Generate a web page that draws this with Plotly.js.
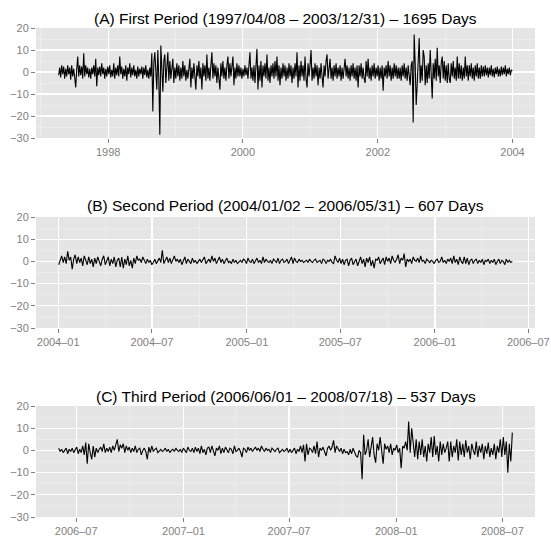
<!DOCTYPE html>
<html>
<head>
<meta charset="utf-8">
<script src="https://cdn.plot.ly/plotly-3.0.1.min.js"></script>
<style>html,body{margin:0;padding:0;background:#fff;}#chart{width:551px;height:536px;}</style>
</head>
<body>
<div id="chart"></div>
<script>
const titleA = "(A) First Period (1997/04/08 – 2003/12/31) – 1695 Days";
const titleB = "(B) Second Period (2004/01/02 – 2006/05/31) – 607 Days";
const titleC = "(C) Third Period (2006/06/01 – 2008/07/18) – 537 Days";

const periodA = ["1997-04-08", "2003-12-31"];
const periodB = ["2004-01-02", "2006-05-31"];
const periodC = ["2006-06-01", "2008-07-18"];

const valuesA = [
-1.5,2,-2.5,3,-1,2.5,-3,1.5,-2,3,
-1,2,-3.5,3,-2,1.5,-2.5,-7,1,7,
-2,3,-1.5,2.5,-3,8.5,-2,3,-1,2,
-2.5,1.5,-3,2,-1,3,-2,6,-6.5,2,
-1.5,2.5,-2,4,-1,2,-3,1.5,-2,2.5,
-1,3,-2.5,1,-2,4,-3,2,-1.5,3,
-2,7,-1,2.5,-3,1.5,-2,3,-4,2,
-1,4,-2.5,2,-1.5,3,-2,1,-3,2.5,
-2,1.5,-1,2.5,-3,2,-1.5,3,-2.5,1,
-3,2,-2,8.5,-18,4,9,-4,-8,10,
-3,-28.5,12,2,-9,5,8,-5,3,9,
-4,5,-3,4,6,-5,2,-3,4,-2,
3,-4,2,-3,5,-2,3,-4,1,-3,
4,6,-7,2,-3,4,-2,-8,3,-2,
5,-3,2,-8,4,-2,3,-4,8,-3,
2,-4,3,9,-3,4,-2,3,-5,2,
-3,-8,4,-2,5,-3,2,-4,3,7,
-3,4,-2,3,7,-6,2,-3,4,-2,
3,-2,2,-3,1.5,-2,3,-1.5,2,-3,
4,9,-3,2,-4,3,-5,2,10.5,-8,
3,-4,5,-7,3,-2,4,-3,8,-4,
2,-5,3,-2,4,-3,5,-2,7,-4,
3,-6,2,-3,4,-2,3,-4,2,-3,
4,-2,3,-5,2,-3,4,-2,9,-7,
3,-4,5,-2,3,-4,7,-3,-7,4,
-2,3,10,-4,2,-3,4,-2,3,-6,
2,-3,4,-2,-7,3,-2,5,8,-3,
2,6,-3,2,-4,3,-2,4,-3,2,
-2,3,-4,2,-3,4,6,-2,3,-3,
2,-4,3,-2,4,-3,2,-4,3,-7,
3,-2,4,-3,2,-3,-5,5,-2,6,
-3,2,-4,3,-2,4,-3,2,-2,3,
-4,2,-3,3,-8.5,2,-2,3,-3,5,
-2,3,-4,2,-3,4,-2,3,-3,2,
-3,2,-4,3,-2,4,-3,2,-4,3,
-2,-6,3,5,-23,17,4,-15,-6,8,
15.5,-5,3,-4,10,7,-6,3,-5,4,
-3,10,-5,-12,4,-3,6,-4,11,-2,
3,-5,4,7,-3,5,-4,3,-5,4,
-3,-5,4,-2,5,-3,2,-4,7,-3,
4,-3,3,-4,2,-3,7,-2,3,-4,
3,-2,4,-3,2,-4,3,-2,4,-3,
2,-3,3,-2,2.5,-2,3,-1.5,2,-2.5,
2,-1.5,3,-2,1.5,-2.5,2,-1,2.5,-2,
1.5,-2,2.5,-1.5,2,-1,3,-2,1.5,-1,
2,-1.5,1,0.5
];

const valuesB = [
-1.5,1,2.5,-0.5,2,-1,4.5,0.5,2,-3.5,
1,3,-1,2,-0.5,1.5,-2,2.5,0,-1.5,
2,-1,1,-2.5,1.5,-1,2,-0.5,-2,1,
2.5,-1.5,0.5,2,-2,1,-1,2,-2.5,0.5,
1.5,-2.5,2,-3,1,-1.5,2.5,-2,0.5,-3,
1.5,-1,2.5,0.5,1,-0.5,2,0,-1,1,
-0.5,0.5,-1.5,-0.5,1,-1,0.5,1.5,-0.5,5,
-1,0.5,2,-0.5,1.5,-1,0.5,2.5,0,1,
-0.5,1,-1.5,0.5,2,-1,1,0,-1,1.5,
-0.5,0.5,-1,0,1,-0.5,0.5,2,-1,0,
1,-0.5,2.5,0,1.5,-1,0.5,2,-0.5,1,
-1,0.5,1.5,-0.5,0,-1,1,-0.5,0.5,-1,
0,0.5,-0.5,1,0.5,-1,1.5,0,-0.5,1,
-1,0,1.5,-0.5,0.5,-1,2,-0.5,1,0,
-0.5,0.5,-1,1,0,-0.5,1.5,-1,0.5,1,
-0.5,0,1,-1,0.5,2,-1,1.5,0,-0.5,
1,0,0.5,-0.5,0,0.5,-0.5,1,0,-0.5,
0.5,1,-0.5,0,0.5,-1,1,0.5,-1,0.5,
0,1,-0.5,-1,2.5,0.5,-0.5,1.5,-1,1,
-1.5,0.5,1,-2,0.5,1.5,-1.5,0,1,-2,
0.5,2,-1,1,-2.5,1.5,-0.5,2,-2,0.5,
-3,1,0.5,2,-1,0,1.5,-1.5,2,0,
1.5,-1,2.5,0.5,-0.5,1,3,-1,1.5,0.5,
3.5,-2.5,1,0,1,-1,2,0.5,0,1.5,
-0.5,2.5,0,0.5,-1,1,0,-0.5,0.5,0,
-1,0.5,1,-0.5,0,2,-0.5,0.5,-1,1,
0,1.5,-1,2.5,-0.5,1,-1.5,2,0,-1,
2,-1,1.5,-1.5,0.5,1,-1,0.5,1,-1,
0.5,-0.5,1,-1.5,0.5,0,1,-1,0.5,-0.5,
1,-1.5,0,1,-1,0.5,0,-1.5,1,-0.5,
0.5,-0.5,0
];

const valuesC = [
1,-0.5,0.5,-1,0,1,-1.5,0.5,-0.5,1,
-1,0,1.5,-1.5,0.5,-1,2,-2,3.5,-6,
3,-1,-4,2,-3,1,-1,0.5,1.5,-0.5,
3,-1,1,-0.5,1.5,-1,2,0,3,5,
-0.5,2.5,1,3,-1,2,0,1.5,-1,1,
-0.5,2,-1,0.5,1,-2,0,1,-0.5,-4,
1.5,-1,2,-0.5,0.5,1,-1,0,0.5,-0.5,
0,1,-0.5,0.5,-1,0,0.5,-0.5,1,0,
-0.5,0.5,-1,1,0,-1,1.5,0,-0.5,1,
-1,1.5,-0.5,1,-1.5,2,-1,0.5,-2,1,
1.5,-1,2,-0.5,-2.5,1,0,2,-1.5,1,
-1,1.5,0,-1,1,0.5,-1.5,2,-0.5,0,
1,-0.5,-3,1,0.5,-1,1.5,0,1,-0.5,
0.5,1.5,0,1,-0.5,2,0.5,-0.5,1,0,
0.5,-1,1,0,-0.5,0.5,1,-1,0,0.5,
-0.5,0,1,-1,0.5,-1,0,1,-1.5,0.5,
-0.5,2,-1,2.5,-5,3,-2,1,0.5,-1,
2,-1.5,4,-3,1,0,1.5,-1,-2.5,1,
2,0,1.5,4.5,-1,2,0.5,-0.5,1,-1.5,
0.5,-1,-0.5,-2,0.5,-1.5,1,-1,-2.5,-3,
0,-1,-13,7,-2,0,5,-3,1,6,
-2,-5.5,3,0,6,-1,-6,3,0.5,2,
-1,3,-2,1,0,2.5,-1,1,-8,2,
1,4,0,13,-1,10,2,-3,5,-4,
4,-2,5,-3,2,-5,3,-1,6,-3,
6.5,-2,2,-5,4,-2,3,-1,1,4,
-5,4,-3,2,-1,5,-4.5,4,-2,3,
-3,4.5,-1,2,-4,3,0,-2,4,-3,
2,-1,3,-4,2,-1.5,3.5,-3,1,-2,
3,-4,2,-1,5,-3,6,-2,4,-10,
3,-5,8
];

const yTickVals = [-30, -20, -10, 0, 10, 20];

// ---- Helpers ----
function sampleDates(period, n) {
  const a = Date.parse(period[0] + "T00:00:00Z"), b = Date.parse(period[1] + "T00:00:00Z");
  const out = [];
  for (let i = 0; i < n; i++) out.push(new Date(a + (b - a) * i / (n - 1)).toISOString().slice(0, 19).replace("T", " "));
  return out;
}
function paddedRange(period) {
  const a = Date.parse(period[0] + "T00:00:00Z"), b = Date.parse(period[1] + "T00:00:00Z");
  const p = 0.05 * (b - a);
  return [new Date(a - p).toISOString().slice(0, 19).replace("T", " "),
          new Date(b + p).toISOString().slice(0, 19).replace("T", " ")];
}

const lineStyle = {color: "#000000", width: 1.1};
const traces = [
  {x: sampleDates(periodA, valuesA.length), y: valuesA, type: "scatter", mode: "lines", line: lineStyle, xaxis: "x", yaxis: "y", hoverinfo: "skip"},
  {x: sampleDates(periodB, valuesB.length), y: valuesB, type: "scatter", mode: "lines", line: lineStyle, xaxis: "x2", yaxis: "y2", hoverinfo: "skip"},
  {x: sampleDates(periodC, valuesC.length), y: valuesC, type: "scatter", mode: "lines", line: lineStyle, xaxis: "x3", yaxis: "y3", hoverinfo: "skip"}
];

const tickFont = {family: "Liberation Sans, Arial, sans-serif", size: 11, color: "#7F7F7F"};
function xAxis(period, anchor, dtick, minorDtick, fmt) {
  return {
    type: "date", domain: [0, 1], anchor: anchor, range: paddedRange(period),
    tick0: "2000-01-01", dtick: dtick, tickformat: fmt,
    showgrid: true, gridcolor: "#FFFFFF", gridwidth: 1.1,
    minor: {dtick: minorDtick, tick0: "2000-01-01", showgrid: true, gridcolor: "#F2F2F2", gridwidth: 0.6},
    ticks: "outside", ticklen: 4, tickwidth: 1, tickcolor: "#7F7F7F",
    tickfont: tickFont, showline: false, zeroline: false, fixedrange: true
  };
}
function yAxis(domain, anchor) {
  return {
    domain: domain, anchor: anchor, range: [-30, 20],
    tickvals: yTickVals, ticktext: yTickVals.map(v => (v < 0 ? "\u2212" + Math.abs(v) : String(v))),
    showgrid: true, gridcolor: "#FFFFFF", gridwidth: 1.1,
    minor: {tickvals: [-25, -15, -5, 5, 15], showgrid: true, gridcolor: "#F2F2F2", gridwidth: 0.6},
    ticks: "outside", ticklen: 4, tickwidth: 1, tickcolor: "#7F7F7F",
    tickfont: tickFont, showline: false, zeroline: false, fixedrange: true
  };
}

const H = 536;
const titleFont = {family: "Liberation Sans, Arial, sans-serif", size: 15.5, color: "#000000"};
const layout = {
  width: 551, height: 536,
  margin: {l: 36, r: 16, t: 0, b: 0, pad: 0},
  paper_bgcolor: "#FFFFFF", plot_bgcolor: "#E5E5E5",
  showlegend: false,
  xaxis:  xAxis(periodA, "y",  "M24", "M12", "%Y"),
  xaxis2: xAxis(periodB, "y2", "M6",  "M3",  "%Y\u2013%m"),
  xaxis3: xAxis(periodC, "y3", "M6",  "M3",  "%Y\u2013%m"),
  yaxis:  yAxis([1 - 138 / H, 1 - 28 / H], "x"),
  yaxis2: yAxis([1 - 328 / H, 1 - 217 / H], "x2"),
  yaxis3: yAxis([1 - 517 / H, 1 - 406 / H], "x3"),
  annotations: [
    {text: titleA, xref: "paper", yref: "paper", x: 0.5, y: 1 - 18 / H, xanchor: "center", yanchor: "middle", showarrow: false, font: titleFont},
    {text: titleB, xref: "paper", yref: "paper", x: 0.5, y: 1 - 206 / H, xanchor: "center", yanchor: "middle", showarrow: false, font: titleFont},
    {text: titleC, xref: "paper", yref: "paper", x: 0.5, y: 1 - 397 / H, xanchor: "center", yanchor: "middle", showarrow: false, font: titleFont}
  ]
};

Plotly.newPlot("chart", traces, layout, {displayModeBar: false, staticPlot: true});
</script>
</body>
</html>
